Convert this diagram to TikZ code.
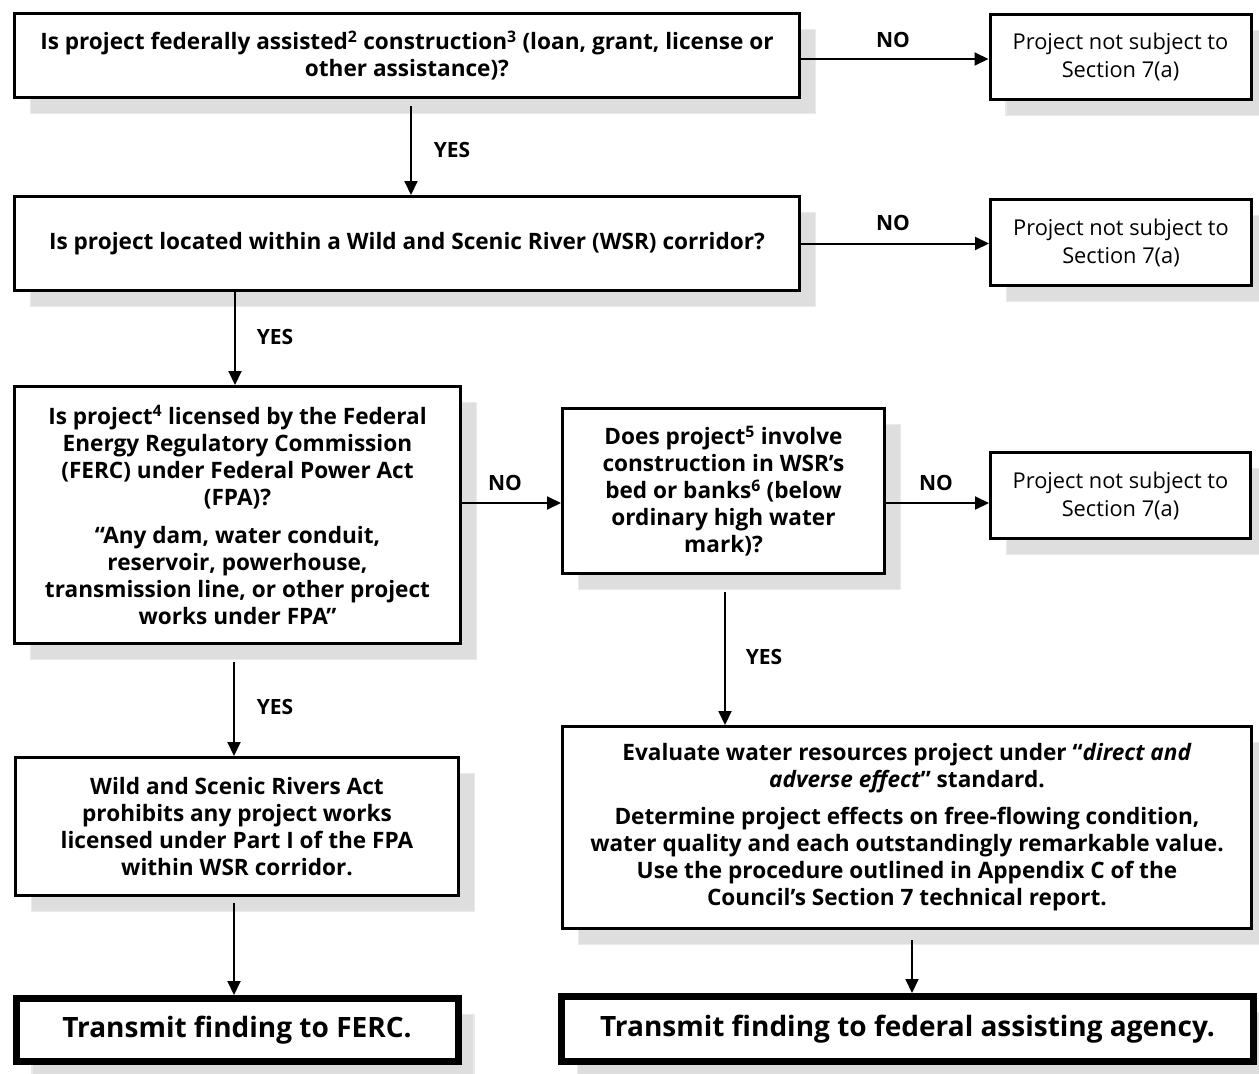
\documentclass[tikz,border=0pt]{standalone}
\usepackage{fontspec}
\setmainfont{Open Sans}
\usetikzlibrary{arrows.meta}
\definecolor{shadowgray}{HTML}{DEDEDE}
\definecolor{shadowedge}{HTML}{EAEAEA}
\begin{document}
\begin{tikzpicture}[x=1pt,y=-1pt,
  shadowed/.style={preaction={draw=shadowedge, fill=shadowgray, line width=1.5pt,
      transform canvas={shift={(16pt,-16pt)}}}},
  qbox/.style={shadowed, draw, line width=3pt, fill=white, align=center, inner sep=0pt,
      font=\bfseries\fontsize{22.6}{27}\selectfont},
  rbox/.style={shadowed, draw, line width=3pt, fill=white, align=center, inner sep=0pt,
      font=\fontsize{21.8}{28}\selectfont},
  finalbox/.style={shadowed, draw, line width=7pt, fill=white, align=center, inner sep=0pt,
      font=\bfseries\fontsize{28}{34}\selectfont},
  lbl/.style={font=\bfseries\fontsize{21}{27}\selectfont, inner sep=0pt},
  arr/.style={line width=2pt, -{Triangle[length=14pt,width=13pt]}}
]
\useasboundingbox (0,0) rectangle (1259,1074);
\clip (0,0) rectangle (1259,1074);

% boxes
\node[qbox, minimum width=785, minimum height=84] (b1) at (407,55.5)
  {Is project federally assisted\textsuperscript{2} construction\textsuperscript{3} (loan, grant, license or\\other assistance)?};
\node[rbox, minimum width=261, minimum height=85] (r1) at (1120.5,57)
  {Project not subject to\\Section 7(a)};
\node[qbox, minimum width=785, minimum height=94] (b2) at (407,243.5)
  {Is project located within a Wild and Scenic River (WSR) corridor?};
\node[rbox, minimum width=261, minimum height=86] (r2) at (1121,242.5)
  {Project not subject to\\Section 7(a)};
\node[qbox, minimum width=446, minimum height=257] (b3) at (237.5,515)
  {Is project\textsuperscript{4} licensed by the Federal\\Energy Regulatory Commission\\(FERC) under Federal Power Act\\(FPA)?\\[11pt]%
   “Any dam, water conduit,\\reservoir, powerhouse,\\transmission line, or other project\\works under FPA”};
\node[qbox, minimum width=322, minimum height=165] (b4) at (723.5,491)
  {Does project\textsuperscript{5} involve\\construction in WSR’s\\bed or banks\textsuperscript{6} (below\\ordinary high water\\mark)?};
\node[rbox, minimum width=260, minimum height=86] (r3) at (1120.5,495.5)
  {Project not subject to\\Section 7(a)};
\node[qbox, minimum width=443, minimum height=138] (b5) at (237,826.5)
  {Wild and Scenic Rivers Act\\prohibits any project works\\licensed under Part I of the FPA\\within WSR corridor.};
\node[qbox, minimum width=689, minimum height=202] (b7) at (907,827.5)
  {Evaluate water resources project under “\textit{direct and}\\\textit{adverse effect}” standard.\\[10pt]%
   Determine project effects on free-flowing condition,\\water quality and each outstandingly remarkable value.\\Use the procedure outlined in Appendix C of the\\Council’s Section 7 technical report.};
\node[finalbox, minimum width=442, minimum height=63] (b6) at (237,1030)
  {Transmit finding to FERC.};
\node[finalbox, minimum width=692, minimum height=65] (b8) at (907.5,1029)
  {Transmit finding to federal assisting agency.};

% connector end helpers
\coordinate (s1) at ([yshift=-7pt]b1.south -| 411,0);
\coordinate (s4) at ([yshift=-17pt]b4.south -| 725,0);
\coordinate (s3) at ([yshift=-17pt]b3.south -| 234,0);
\coordinate (s5) at ([yshift=-6pt]b5.south -| 234,0);
\coordinate (s7) at ([yshift=-10pt]b7.south -| 912,0);

% connectors
\draw[arr] (r1.west -| b1.east) ++(0,2) -- ([yshift=-2pt]r1.west);
\draw[arr] (s1) -- (s1 |- b2.north);
\draw[arr] (b2.east) -- (b2.east -| r2.west);
\draw[arr] (b2.south -| 235,0) -- (b3.north -| 235,0);
\draw[arr] (b3.east |- 0,503) -- (b4.west |- 0,503);
\draw[arr] (b4.east |- 0,503) -- (r3.west |- 0,503);
\draw[arr] (s4) -- (s4 |- b7.north);
\draw[arr] (s3) -- (s3 |- b5.north);
\draw[arr] (s5) -- (s5 |- b6.north);
\draw[arr] (s7) -- (s7 |- b8.north);

% labels
\node[lbl] (l1) at (893,40) {NO};
\node[lbl] (l2) at (452,150) {YES};
\node[lbl] (l3) at (893,223) {NO};
\node[lbl] (l4) at (275,337) {YES};
\node[lbl] (l5) at (505,483) {NO};
\node[lbl] (l6) at (936,483) {NO};
\node[lbl] (l7) at (764,657) {YES};
\node[lbl] (l8) at (275,707) {YES};
\end{tikzpicture}
\end{document}
